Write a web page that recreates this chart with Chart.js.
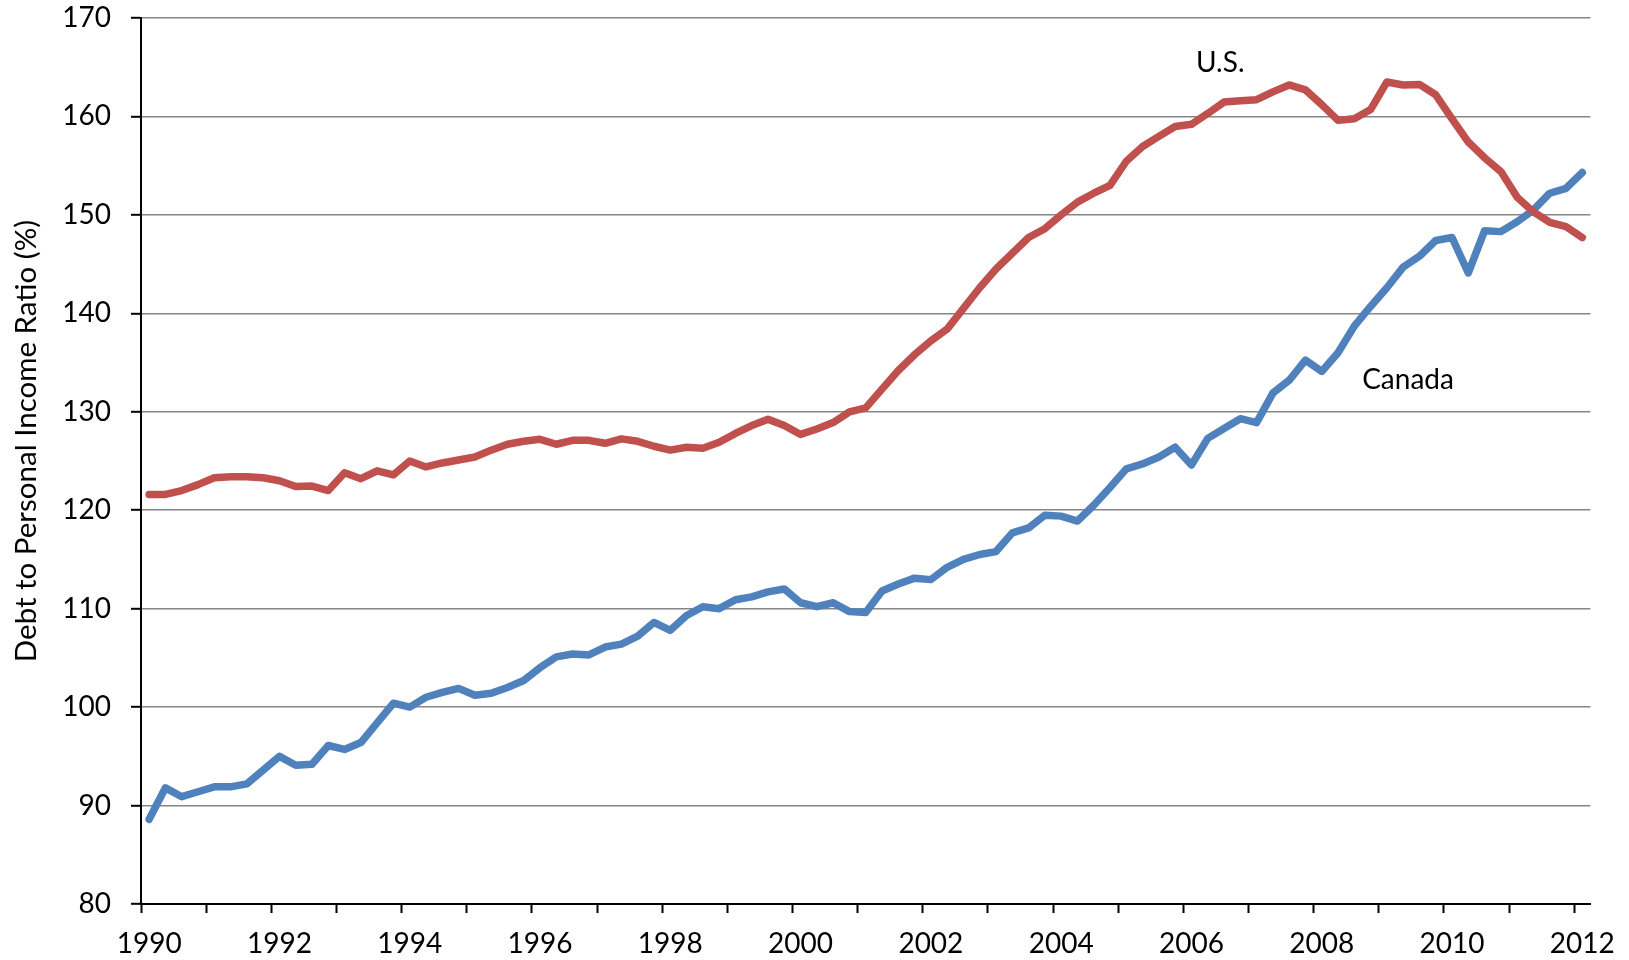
<!DOCTYPE html>
<html>
<head>
<meta charset="utf-8">
<script src="https://cdn.jsdelivr.net/npm/chart.js@4.4.1/dist/chart.umd.min.js"></script>
<style>
  html, body { margin: 0; padding: 0; background: #ffffff; }
  #wrap { width: 1629px; height: 960px; position: relative; }
</style>
</head>
<body>
<div id="wrap"><canvas id="c" width="1629" height="960"></canvas></div>
<script>
// ---- Data (quarterly, 1990 Q1 .. 2012 Q1) ----
const years = [];
for (let y = 1990; y <= 2012; y++) years.push(y);
const quarters = [];
years.forEach(y => { for (let q = 1; q <= 4; q++) quarters.push(y + ' Q' + q); });
const categories = quarters.slice(0, 89);

const yearLabels = ['1990','1992','1994','1996','1998','2000','2002','2004','2006','2008','2010','2012'];

const usValues = [
  121.6, 121.6, 122.0, 122.6, 123.3, 123.4, 123.4, 123.3,
  123.0, 122.4, 122.45, 122.0, 123.8, 123.2, 124.0, 123.6,
  125.0, 124.4, 124.8, 125.1, 125.4, 126.1, 126.7, 127.0,
  127.2, 126.7, 127.1, 127.1, 126.8, 127.25, 127.0, 126.5,
  126.1, 126.4, 126.3, 126.9, 127.8, 128.6, 129.25, 128.6,
  127.7, 128.25, 128.9, 130.0, 130.4, 132.3, 134.2, 135.8,
  137.2, 138.4, 140.5, 142.6, 144.5, 146.1, 147.7, 148.6,
  150.0, 151.3, 152.2, 153.0, 155.45, 156.95, 157.97, 158.98,
  159.2, 160.3, 161.46, 161.6, 161.7, 162.5, 163.2, 162.7,
  161.2, 159.6, 159.76, 160.7, 163.5, 163.2, 163.25, 162.2,
  159.76, 157.4, 155.8, 154.4, 151.8, 150.3, 149.25, 148.8,
  147.7
];

const canadaValues = [
  88.6, 91.8, 90.9, 91.4, 91.9, 91.9, 92.2, 93.6,
  95.0, 94.1, 94.2, 96.1, 95.7, 96.4, 98.4, 100.4,
  100.0, 101.0, 101.5, 101.9, 101.2, 101.4, 102.0, 102.7,
  104.0, 105.1, 105.4, 105.3, 106.1, 106.4, 107.2, 108.6,
  107.8, 109.3, 110.2, 110.0, 110.9, 111.2, 111.7, 112.0,
  110.6, 110.2, 110.6, 109.7, 109.6, 111.8, 112.5, 113.1,
  112.95, 114.2, 115.0, 115.5, 115.8, 117.7, 118.2, 119.5,
  119.4, 118.9, 120.5, 122.3, 124.2, 124.7, 125.4, 126.4,
  124.6, 127.3, 128.3, 129.3, 128.9, 131.9, 133.2, 135.25,
  134.1, 136.0, 138.7, 140.7, 142.6, 144.7, 145.8, 147.4,
  147.7, 144.1, 148.4, 148.3, 149.3, 150.5, 152.2, 152.7,
  154.3
];

const seriesNames = ['U.S.', 'Canada'];
// series label anchors in data units: [category index, value]
const labelAnchors = [[65.77, 165.4], [77.3, 133.2]];
const yTitle = 'Debt to Personal Income Ratio (%)';

const FONT = 'Lato, "Open Sans", sans-serif';

const textPlugin = {
  id: 'textPlugin',
  afterDraw(chart) {
    const ctx = chart.ctx;
    const xs = chart.scales.x, ys = chart.scales.y;
    ctx.save();
    ctx.fillStyle = '#000000';
    ctx.font = '28px ' + FONT;
    ctx.textAlign = 'center';
    ctx.textBaseline = 'middle';
    seriesNames.forEach((n, i) => {
      ctx.fillText(n, xs.getPixelForValue(labelAnchors[i][0]), ys.getPixelForValue(labelAnchors[i][1]));
    });
    // y axis title
    ctx.translate(26, 441);
    ctx.rotate(-Math.PI / 2);
    ctx.font = '29.5px ' + FONT;
    ctx.fillText(yTitle, 0, 0);
    ctx.restore();
  }
};

function draw() {
  new Chart(document.getElementById('c'), {
    type: 'line',
    data: {
      labels: categories,
      datasets: [
        { label: seriesNames[0], data: usValues, borderColor: '#C0504D', backgroundColor: '#C0504D',
          borderWidth: 7.5, pointRadius: 0, tension: 0, borderCapStyle: 'round', borderJoinStyle: 'round', fill: false },
        { label: seriesNames[1], data: canadaValues, borderColor: '#4F81BD', backgroundColor: '#4F81BD',
          borderWidth: 7.5, pointRadius: 0, tension: 0, borderCapStyle: 'round', borderJoinStyle: 'round', fill: false }
      ]
    },
    options: {
      responsive: false,
      animation: false,
      devicePixelRatio: 1,
      layout: { padding: { top: 18, right: 38, left: 0, bottom: 0 } },
      plugins: { legend: { display: false }, tooltip: { enabled: false } },
      scales: {
        x: {
          type: 'category',
          offset: true,
          afterFit: s => { s.height = 56; s.paddingTop = 0; },
          grid: {
            offset: true,
            drawOnChartArea: false,
            drawTicks: true,
            tickLength: 9,
            tickWidth: 2,
            tickColor: c => (c.index !== undefined && c.index % 4 === 0) ? '#000000' : 'rgba(0,0,0,0)',
            color: 'rgba(0,0,0,0)'
          },
          border: { display: true, color: '#000000', width: 2 },
          ticks: {
            autoSkip: false,
            maxRotation: 0,
            minRotation: 0,
            padding: 14,
            color: '#000000',
            font: { family: FONT, size: 28 },
            callback: function (value, index) {
              return index % 8 === 0 ? yearLabels[index / 8] : '';
            }
          }
        },
        y: {
          min: 80,
          max: 170,
          afterFit: s => { s.width = 141; s.paddingTop = 0; s.paddingBottom = 0; },
          grid: {
            color: c => (c.tick && c.tick.value === 80) ? '#000000' : '#868686',
            lineWidth: 1.6,
            drawTicks: true,
            tickLength: 10,
            tickWidth: 2,
            tickColor: '#000000'
          },
          border: { display: true, color: '#000000', width: 2 },
          ticks: {
            stepSize: 10,
            padding: 20,
            color: '#000000',
            font: { family: FONT, size: 28 }
          }
        }
      }
    },
    plugins: [textPlugin]
  });
}

if (document.fonts && document.fonts.load) {
  Promise.all([document.fonts.load('28px Lato'), document.fonts.load('29.5px Lato')]).then(draw, draw);
} else {
  draw();
}
</script>
</body>
</html>
